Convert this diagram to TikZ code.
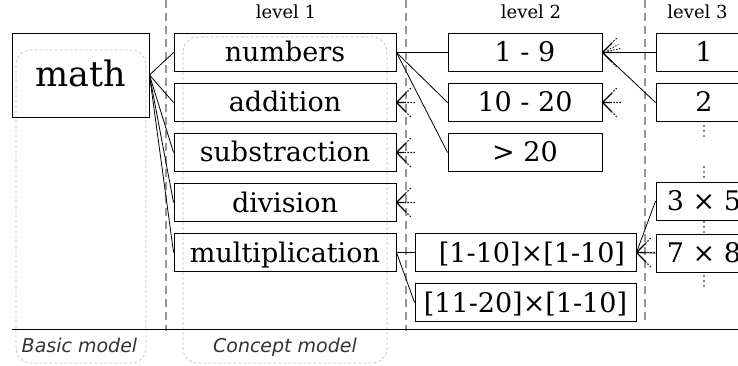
\documentclass[tikz,border=0pt]{standalone}
\usepackage{fontspec}
\setmainfont{DejaVu Serif}
\setsansfont{DejaVu Sans}
\definecolor{vgray}{RGB}{150,150,150}
\definecolor{lgray}{RGB}{195,195,195}
\begin{document}
\begin{tikzpicture}[x=1pt,y=-1pt,
  box/.style={draw, line width=0.9pt, inner sep=0pt, minimum height=38pt,
    text height=22pt, text depth=3pt, font=\fontsize{27}{30}\selectfont},
  wide/.style={box, minimum width=222pt},
  mid/.style={box, minimum width=154pt},
  lthree/.style={box, minimum width=96pt},
  conn/.style={line width=0.8pt},
  vdash/.style={draw=vgray, line width=1.5pt, dash pattern=on 8pt off 5pt},
  model/.style={draw=lgray, line width=0.7pt, dash pattern=on 3pt off 2pt, rounded corners=15pt},
  lvl/.style={anchor=base, font=\fontsize{18}{20}\selectfont},
  mlab/.style={anchor=base, text=black!80, font=\sffamily\itshape\fontsize{19}{21}\selectfont},
  crow/.pic={
    \draw[line width=1.2pt] (0,0) -- (9,-9) (0,0) -- (9,9) (0,0) -- (8,0);
    \draw[line width=1.1pt, dash pattern=on 1.3pt off 1.7pt] (9,-9) -- (15,-15) (9,9) -- (15,15) (8,0) -- (19,0);
  },
  crowx/.pic={
    \draw[line width=0.9pt, dash pattern=on 1.3pt off 1.7pt] (5,-2) -- (16,-8) (5,-1) -- (18,-4);
  }]
\useasboundingbox (0,0) rectangle (738,366);

% model regions
\draw[model] (16,50) rectangle (146,363);
\draw[model] (183,37) rectangle (387,363);

% column separators
\draw[vdash] (166,0) -- (166,331);
\draw[vdash] (406,0) -- (406,331);
\draw[vdash] (645,0) -- (645,324);
\draw[line width=0.9pt] (12,329) -- (738,329);

% labels
\node[lvl] (lv1) at (286,18.5) {level 1};
\node[lvl] (lv2) at (531,18.5) {level 2};
\node[lvl] (lv3) at (697.5,18.5) {level 3};
\node[mlab] (bm) at (79.5,352) {Basic model};
\node[mlab] (cm) at (285,352) {Concept model};

% root
\node[box, minimum width=137pt, minimum height=84pt, text height=30pt, text depth=6pt,
  font=\fontsize{35}{40}\selectfont] (m) at (80.5,75) {math};

% level 1
\node[wide] (n1) at (285,52.5) {numbers};
\node[wide] (n2) at (285,102.5) {addition};
\node[wide] (n3) at (285,152.5) {substraction};
\node[wide] (n4) at (285,202.5) {division};
\node[wide] (n5) at (285,252.5) {multiplication};

% level 2
\node[mid] (b1) at (525,52.5) {1 - 9};
\node[mid] (b2) at (525,102.5) {10 - 20};
\node[mid] (b3) at (525,152.5) {> 20};
\node[box, minimum width=221pt] (b4) at (525.5,252.5) {\hspace*{13pt}[1-10]×[1-10]};
\node[box, minimum width=221pt] (b5) at (525.5,302.5) {[11-20]×[1-10]};

% level 3
\node[lthree] (c1) at (704,52.5) {1};
\node[lthree] (c2) at (704,102.5) {2};
\node[lthree] (c3) at (704,201) {3 × 5};
\node[lthree] (c4) at (704,253) {7 × 8};

\foreach \yy in {131,172,227,281}
  \fill (704,\yy-5) circle (0.8) (704,\yy) circle (0.8) (704,\yy+5) circle (0.8);

% connectors
\foreach \t in {n1,n2,n3,n4,n5} \draw[conn] (m.east) -- (\t.west);
\foreach \t in {b1,b2,b3} \draw[conn] (n1.east) -- (\t.west);
\draw[conn] (n5.east) -- (b4.west);
\draw[conn] (n5.east) -- (b5.west);
\draw[conn] (c1.west) -- (b1.east);
\draw[conn] (c2.west) -- (b1.east);
\draw[conn] (c3.west) -- (b4.east);
\draw[conn] (c4.west) -- (b4.east);

% crow's feet
\foreach \t in {b1,b2,b4,n2,n3,n4} \pic at (\t.east) {crow};
\pic at (b1.east) {crowx};
\end{tikzpicture}
\end{document}
